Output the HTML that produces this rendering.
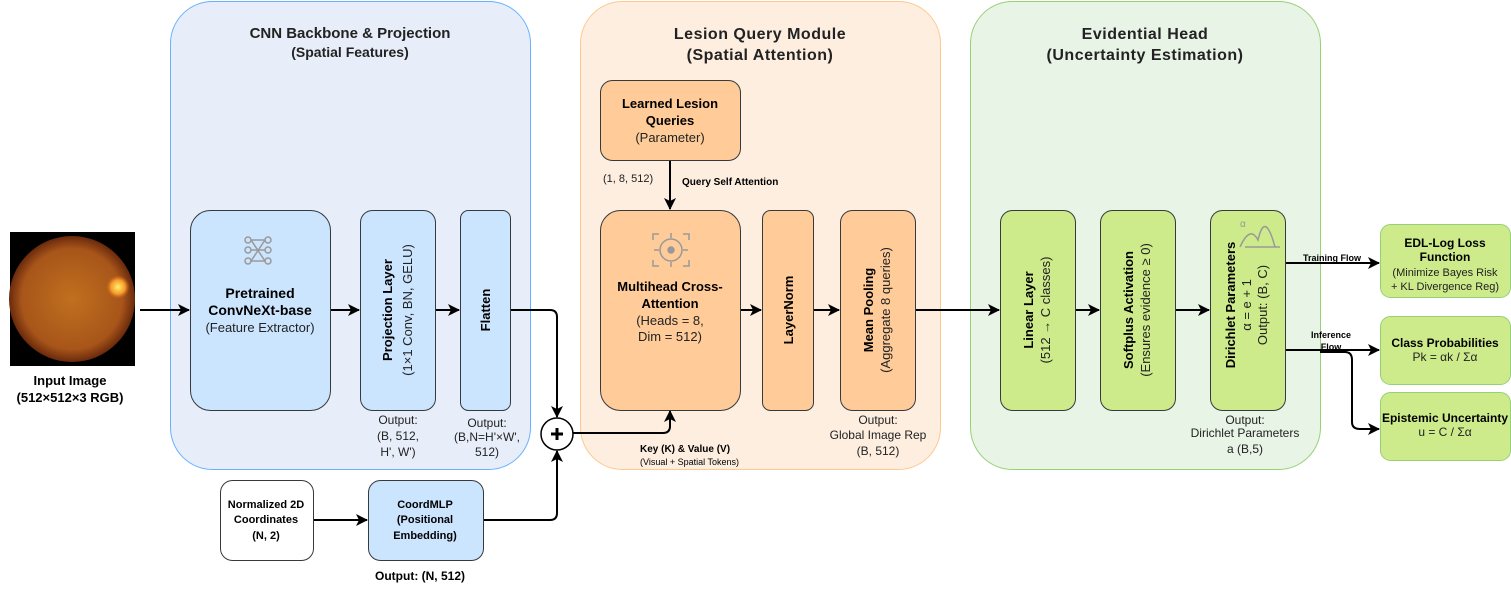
<!DOCTYPE html>
<html><head><meta charset="utf-8"><style>
body{margin:0;background:#fff}
svg{display:block;font-family:"Liberation Sans",Arial,sans-serif}
</style></head><body>
<svg width="1511" height="601" viewBox="0 0 1511 601">
<defs>
<marker id="a" markerWidth="12" markerHeight="12" refX="11" refY="6" orient="auto" markerUnits="userSpaceOnUse"><path d="M0,0 L12,6 L0,12 L3,6 z" fill="#000"/></marker>
<radialGradient id="eye" cx="0.5" cy="0.5" r="0.5"><stop offset="0" stop-color="#c0701e"/><stop offset="0.8" stop-color="#a8551a"/><stop offset="1" stop-color="#6a2a0c"/></radialGradient>
<radialGradient id="disc"><stop offset="0" stop-color="#fff06a"/><stop offset="0.6" stop-color="#f59a2a"/><stop offset="1" stop-color="#c0601e" stop-opacity="0"/></radialGradient>
</defs>
<rect x="170.5" y="1.5" width="360" height="468" rx="42" fill="#e8eef9" stroke="#66b2ff"/>
<rect x="580.5" y="1.5" width="360" height="468" rx="42" fill="#fdeee0" stroke="#ffc890"/>
<rect x="970.5" y="1.5" width="350" height="468" rx="42" fill="#e8f4e6" stroke="#97d077"/>
<g font-weight="bold" text-anchor="middle" fill="#222">
<text x="350" y="38" font-size="15">CNN Backbone &amp; Projection</text>
<text x="350" y="57" font-size="14">(Spatial Features)</text>
<text x="760" y="39" font-size="16" letter-spacing="0.5">Lesion Query Module</text>
<text x="760" y="60" font-size="16" letter-spacing="0.5">(Spatial Attention)</text>
<text x="1145" y="39" font-size="16" letter-spacing="0.5">Evidential Head</text>
<text x="1145" y="60" font-size="16" letter-spacing="0.5">(Uncertainty Estimation)</text>
</g>
<rect x="10" y="232" width="125" height="134" fill="#000"/>
<circle cx="72" cy="299" r="63" fill="url(#eye)"/>
<circle cx="118" cy="287" r="12" fill="url(#disc)"/>
<g font-weight="bold" font-size="13" text-anchor="middle" fill="#000">
<text x="70" y="385">Input Image</text><text x="70" y="402">(512×512×3 RGB)</text></g>
<g stroke="#000" stroke-width="2" fill="none">
<path d="M140,310 H189" marker-end="url(#a)"/>
<path d="M330,310 H359" marker-end="url(#a)"/>
<path d="M435,310 H459" marker-end="url(#a)"/>
<path d="M510,310 H550 Q557,310 557,317 V417" marker-end="url(#a)"/>
<path d="M313,520 H367" marker-end="url(#a)"/>
<path d="M483,520 H550 Q557,520 557,513 V451" marker-end="url(#a)"/>
<path d="M573,433 H663 Q670,433 670,426 V411" marker-end="url(#a)"/>
<path d="M670,160 V209" marker-end="url(#a)"/>
<path d="M740,310 H761" marker-end="url(#a)"/>
<path d="M813,310 H839" marker-end="url(#a)"/>
<path d="M915,310 H999" marker-end="url(#a)"/>
<path d="M1075,310 H1099" marker-end="url(#a)"/>
<path d="M1175,310 H1209" marker-end="url(#a)"/>
<path d="M1285,263 H1379" marker-end="url(#a)"/>
<path d="M1285,350 H1379" marker-end="url(#a)"/>
<path d="M1320,352 H1345 Q1352,352 1352,360 V422 Q1352,429 1360,429 H1379" marker-end="url(#a)"/>
</g>
<circle cx="557" cy="434" r="16" fill="#fff" stroke="#000" stroke-width="1.5"/>
<path d="M551,434 H563 M557,428 V440" stroke="#000" stroke-width="3"/>
<g stroke="#36393d" stroke-width="1">
<rect x="190.5" y="210.5" width="140" height="200" rx="20" fill="#cce5ff"/>
<rect x="360.5" y="210.5" width="75" height="200" rx="12" fill="#cce5ff"/>
<rect x="460.5" y="210.5" width="50" height="200" rx="8" fill="#cce5ff"/>
<rect x="220.5" y="480.5" width="93" height="80" rx="12" fill="#fff"/>
<rect x="368.5" y="480.5" width="115" height="80" rx="12" fill="#cce5ff"/>
<rect x="600.5" y="80.5" width="140" height="80" rx="12" fill="#ffcc99"/>
<rect x="600.5" y="210.5" width="140" height="200" rx="20" fill="#ffcc99"/>
<rect x="762.5" y="210.5" width="51" height="200" rx="8" fill="#ffcc99"/>
<rect x="840.5" y="210.5" width="75" height="200" rx="12" fill="#ffcc99"/>
<rect x="1000.5" y="210.5" width="75" height="200" rx="12" fill="#cdeb8b"/>
<rect x="1100.5" y="210.5" width="75" height="200" rx="12" fill="#cdeb8b"/>
<rect x="1210.5" y="210.5" width="75" height="200" rx="12" fill="#cdeb8b"/>
</g>
<g stroke="#97d077" stroke-width="1" fill="#cdeb8b">
<rect x="1380.5" y="224.5" width="130" height="73" rx="10"/>
<rect x="1380.5" y="316.5" width="130" height="68" rx="10"/>
<rect x="1380.5" y="392.5" width="130" height="68" rx="10"/>
</g>
<g stroke="#999" stroke-width="1.5" fill="none">
<circle cx="248" cy="240" r="3"/><circle cx="268" cy="240" r="3"/><circle cx="248" cy="250" r="3"/><circle cx="268" cy="250" r="3"/><circle cx="248" cy="261" r="3"/><circle cx="268" cy="261" r="3"/>
<path d="M251,240 H265 M251,261 H265 M251,240 L265,261 M265,240 L251,261 M251,250 H265"/>
<circle cx="671" cy="250" r="11"/><circle cx="671" cy="250" r="3" fill="#999"/>
<path d="M653,240 V234 H659 M683,234 H689 V240 M653,260 V266 H659 M683,266 H689 V260 M671,233 V238 M671,262 V267 M654,250 H659 M683,250 H688"/>
<path d="M1240,247 Q1250,225 1258,240 Q1265,210 1275,247 M1245,247 H1280"/>
</g>
<text x="1240" y="227" font-size="10" fill="#999">α</text>
<g text-anchor="middle" fill="#000" font-size="13">
<text x="260" y="298" font-weight="bold" font-size="14">Pretrained</text>
<text x="260" y="315" font-weight="bold" font-size="14">ConvNeXt-base</text>
<text x="260" y="332" fill="#222">(Feature Extractor)</text>
<text transform="translate(392,310) rotate(-90)" font-weight="bold">Projection Layer</text>
<text transform="translate(412,310) rotate(-90)" fill="#222">(1×1 Conv, BN, GELU)</text>
<text transform="translate(490,310) rotate(-90)" font-weight="bold">Flatten</text>
<g font-size="12" fill="#222">
<text x="398" y="424">Output:</text><text x="398" y="440">(B, 512,</text><text x="398" y="456">H', W')</text>
<text x="487" y="427">Output:</text><text x="487" y="441">(B,N=H'×W',</text><text x="487" y="456">512)</text>
<text x="878" y="424">Output:</text><text x="878" y="439">Global Image Rep</text><text x="878" y="455">(B, 512)</text>
<text x="1245" y="424">Output:</text><text x="1245" y="437">Dirichlet Parameters</text><text x="1245" y="453">a (B,5)</text>
</g>
<g font-size="11" font-weight="bold">
<text x="266" y="508">Normalized 2D</text><text x="266" y="523">Coordinates</text><text x="266" y="539">(N, 2)</text>
<text x="425" y="508">CoordMLP</text><text x="425" y="523">(Positional</text><text x="425" y="539">Embedding)</text>
</g>
<text x="420" y="580" font-size="12" font-weight="bold">Output: (N, 512)</text>
<text x="670" y="108" font-weight="bold">Learned Lesion</text>
<text x="670" y="125" font-weight="bold">Queries</text>
<text x="670" y="142" fill="#222">(Parameter)</text>
<text x="670" y="291" font-weight="bold">Multihead Cross-</text>
<text x="670" y="308" font-weight="bold">Attention</text>
<text x="670" y="325" fill="#222">(Heads = 8,</text>
<text x="670" y="341" fill="#222">Dim = 512)</text>
<text transform="translate(793,310) rotate(-90)" font-weight="bold">LayerNorm</text>
<text transform="translate(873,310) rotate(-90)" font-weight="bold">Mean Pooling</text>
<text transform="translate(890,310) rotate(-90)" fill="#222">(Aggregate 8 queries)</text>
<text transform="translate(1033,310) rotate(-90)" font-weight="bold">Linear Layer</text>
<text transform="translate(1050,310) rotate(-90)" fill="#222">(512 → C classes)</text>
<text transform="translate(1133,310) rotate(-90)" font-weight="bold">Softplus Activation</text>
<text transform="translate(1150,310) rotate(-90)" fill="#222">(Ensures evidence ≥ 0)</text>
<text transform="translate(1235,305) rotate(-90)" font-weight="bold">Dirichlet Parameters</text>
<text transform="translate(1251,305) rotate(-90)" fill="#222">α = e + 1</text>
<text transform="translate(1267,305) rotate(-90)" fill="#222">Output: (B, C)</text>
<g font-size="12">
<text x="1445" y="247" font-weight="bold">EDL-Log Loss</text>
<text x="1445" y="261" font-weight="bold">Function</text>
<text x="1445" y="276" font-size="11" fill="#222">(Minimize Bayes Risk</text>
<text x="1445" y="290" font-size="11" fill="#222">+ KL Divergence Reg)</text>
<text x="1445" y="347" font-weight="bold">Class Probabilities</text>
<text x="1445" y="361" fill="#222">Pk = αk / Σα</text>
<text x="1445" y="422" font-weight="bold">Epistemic Uncertainty</text>
<text x="1445" y="436" fill="#222">u = C / Σα</text>
</g>
<g font-size="9" font-weight="bold">
<text x="1332" y="261">Training Flow</text>
<text x="1331" y="338">Inference</text><text x="1331" y="350">Flow</text>
</g>
</g>
<g font-size="10" fill="#000">
<text x="603" y="182" font-size="11" fill="#222">(1, 8, 512)</text>
<text x="682" y="185" font-weight="bold">Query Self Attention</text>
<text x="640" y="452" font-weight="bold">Key (K) &amp; Value (V)</text>
<text x="640" y="465" font-size="9">(Visual + Spatial Tokens)</text>
</g>
</svg>
</body></html>
